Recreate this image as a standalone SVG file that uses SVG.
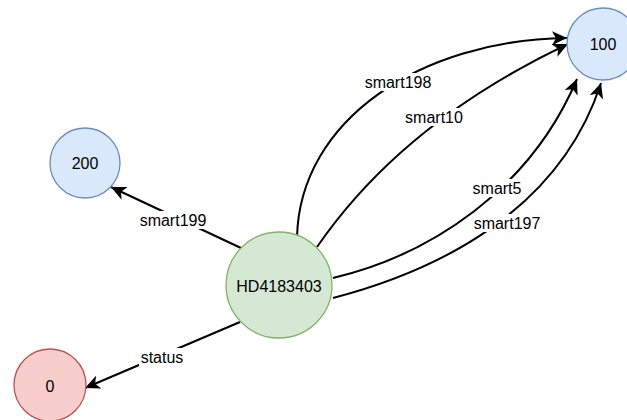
<svg xmlns="http://www.w3.org/2000/svg" width="627" height="420" viewBox="0 0 627 420">
<defs>
<marker id="arr" markerUnits="userSpaceOnUse" markerWidth="16" markerHeight="14" viewBox="0 0 16 14" refX="15" refY="7" orient="auto">
<path d="M0,0 L15,7 L0,14 L4,7 Z" fill="#000"/>
</marker>
<style>
.edge{fill:none;stroke:#000;stroke-width:2;marker-end:url(#arr)}
.lbl{font-family:"Liberation Sans",Arial,sans-serif;font-size:16px;fill:#000;text-anchor:middle;dominant-baseline:central}
.bg{fill:#fff}
.blue{fill:#dae8fc;stroke:#6c8ebf;stroke-width:1.3}
.green{fill:#d5e8d4;stroke:#82b366;stroke-width:1.3}
.red{fill:#f8cecc;stroke:#b85450;stroke-width:1.3}
</style>
</defs>
<rect width="627" height="420" fill="#fff"/>
<g id="connectors">
<path class="edge" d="M241,248 L111,187"/>
<path class="edge" d="M240,322 L85,388"/>
<path class="edge" d="M297,237 C300,120 420,40 567,38"/>
<path class="edge" d="M317,247 C370,170 450,100 568,44"/>
<path class="edge" d="M333,278 C430,255 530,190 577,79"/>
<path class="edge" d="M333,298 C440,270 560,210 601,83"/>
<g id="labels">
<rect class="bg" x="140" y="211" width="66" height="18"/>
<text class="lbl" x="173" y="220">smart199</text>
<rect class="bg" x="139" y="348" width="46" height="18"/>
<text class="lbl" x="162" y="357">status</text>
<rect class="bg" x="365" y="73" width="66" height="18"/>
<text class="lbl" x="398" y="82">smart198</text>
<rect class="bg" x="408" y="108" width="52" height="18"/>
<text class="lbl" x="434" y="117">smart10</text>
<rect class="bg" x="471" y="179" width="52" height="18"/>
<text class="lbl" x="497" y="188">smart5</text>
<rect class="bg" x="473" y="214" width="68" height="18"/>
<text class="lbl" x="507" y="223">smart197</text>
</g>
</g>
<g id="node-100">
<circle class="blue" cx="603" cy="44" r="36"/>
<text class="lbl" x="603" y="44">100</text>
</g>
<g id="node-200">
<circle class="blue" cx="85" cy="163" r="35"/>
<text class="lbl" x="85" y="163">200</text>
</g>
<g id="node-HD4183403">
<circle class="green" cx="279" cy="285" r="53"/>
<text class="lbl" x="279" y="286">HD4183403</text>
</g>
<g id="node-0">
<circle class="red" cx="50" cy="385" r="36"/>
<text class="lbl" x="50" y="386">0</text>
</g>
</svg>
